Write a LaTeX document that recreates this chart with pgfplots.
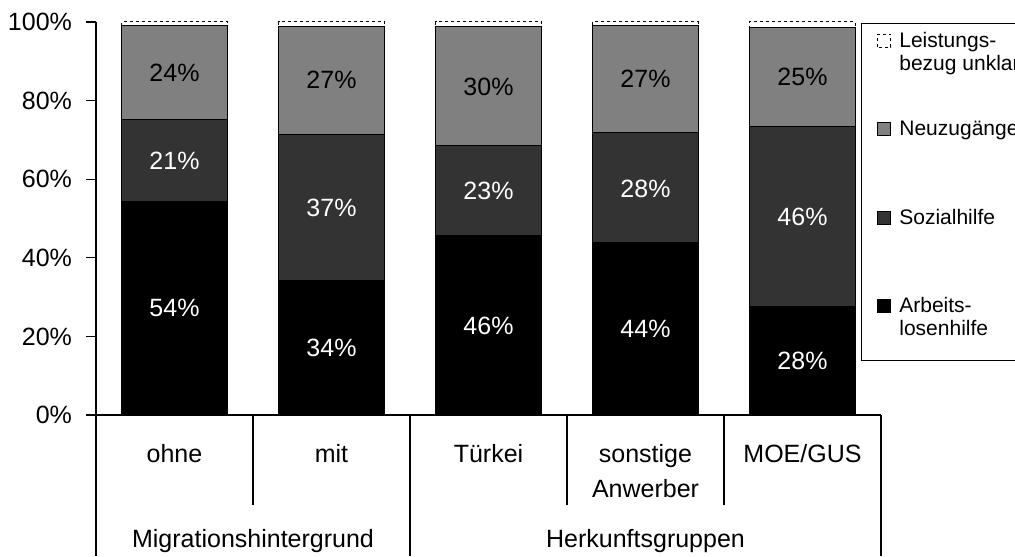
\documentclass[border=0pt]{standalone}
\usepackage{fontspec}
\setmainfont{Liberation Sans}
\usepackage{pgfplots}
\pgfplotsset{compat=1.18}

\definecolor{sozial}{HTML}{333333}
\definecolor{neu}{HTML}{808080}

% legend text: fixed height, no depth
\newcommand\LE[1]{\raisebox{0pt}[8pt][0pt]{\begin{tabular}[t]{@{}l@{}}#1\end{tabular}}}

\pgfplotsset{
  frame/.style={
    at={(48pt,70.5pt)}, anchor=south west,
    scale only axis, width=392.5pt, height=196.5pt,
    xmin=-0.5, xmax=4.5, ymin=0, ymax=100, clip=false,
  },
  lbl/.style={only marks, mark=none, point meta=explicit symbolic,
    nodes near coords,
    every node near coord/.append style={text=#1, anchor=center, inner sep=0pt,
      font=\fontsize{12.5pt}{14pt}\selectfont}},
}
\tikzset{lab/.style={anchor=base, inner sep=0pt, font=\fontsize{12.5pt}{14pt}\selectfont}}

\begin{document}
\begin{tikzpicture}
\path[use as bounding box] (0,0) rectangle (507.5pt,278pt);
\begin{axis}[
  frame,
  ybar stacked, bar width=53pt,
  axis x line*=bottom, axis y line*=left,
  axis line style={line width=0.6pt, -},
  xtick=\empty,
  ytick={0,20,...,100},
  yticklabel={\pgfmathprintnumber{\tick}\%},
  tick align=outside, major tick length=5pt,
  ytick style={line width=0.6pt, black},
  /pgf/number format/assume math mode=true,
  yticklabel style={font=\fontsize{12.5pt}{14pt}\selectfont, xshift=-3.5pt},
  legend style={at={(0.9745,0.9975)}, anchor=north west, draw=black,
    inner xsep=8pt, inner ysep=4pt, row sep=36pt,
    font=\fontsize{10.5pt}{11.5pt}\selectfont,
    cells={anchor=base west}, nodes={inner sep=0pt, text depth=},
    /tikz/every odd column/.append style={column sep=4pt}},
  legend image code/.code={\draw[#1] (0pt,0pt) rectangle (6.5pt,6.5pt);},
  reverse legend,
]
\addplot[fill=black, draw=black, line width=0.5pt]
  coordinates {(0,54.4) (1,34.1) (2,45.7) (3,43.8) (4,27.6)};
\addlegendentry{\begin{tabular}[t]{@{}l@{}}Arbeits-\\losenhilfe\rule[-8pt]{0pt}{0pt}\end{tabular}}
\addplot[fill=sozial, draw=black, line width=0.5pt]
  coordinates {(0,20.7) (1,37.4) (2,22.8) (3,28.2) (4,45.9)};
\addlegendentry{\LE{Sozialhilfe}}
\addplot[fill=neu, draw=black, line width=0.5pt]
  coordinates {(0,24.1) (1,27.4) (2,30.4) (3,27.0) (4,25.0)};
\addlegendentry{\LE{Neuzugänge}}
\addplot[fill=white, draw=black, line width=0.5pt, dash pattern=on 1.5pt off 1.5pt]
  coordinates {(0,0.8) (1,1.1) (2,1.1) (3,1.0) (4,1.5)};
\addlegendentry{\LE{Leistungs-\\bezug unklar}}

% category table below the axis
\draw[line width=0.6pt] (axis cs:-0.5,0) -- (axis cs:-0.5,-36);
\draw[line width=0.6pt] (axis cs:1.5,0) -- (axis cs:1.5,-36);
\draw[line width=0.6pt] (axis cs:4.5,0) -- (axis cs:4.5,-36);
\draw[line width=0.6pt] (axis cs:0.5,0) -- (axis cs:0.5,-23);
\draw[line width=0.6pt] (axis cs:2.5,0) -- (axis cs:2.5,-23);
\draw[line width=0.6pt] (axis cs:3.5,0) -- (axis cs:3.5,-23);
\node[lab] at (axis cs:0,-12.1) {ohne};
\node[lab] at (axis cs:1,-12.1) {mit};
\node[lab] at (axis cs:2,-12.1) {Türkei};
\node[lab] at (axis cs:3,-12.1) {sonstige};
\node[lab] at (axis cs:3,-20.9) {Anwerber};
\node[lab] at (axis cs:4,-12.1) {MOE/GUS};
\node[lab] at (axis cs:0.5,-33.8) {Migrationshintergrund};
\node[lab] at (axis cs:3,-33.8) {Herkunftsgruppen};
\end{axis}

% value labels, centred in each segment
\begin{axis}[frame, hide axis]
\addplot[lbl=white] coordinates {(0,27.2)[54\%] (1,17.0)[34\%] (2,22.8)[46\%] (3,21.9)[44\%] (4,13.8)[28\%]};
\addplot[lbl=white] coordinates {(0,64.7)[21\%] (1,52.8)[37\%] (2,57.1)[23\%] (3,57.6)[28\%] (4,50.5)[46\%]};
\addplot[lbl=black] coordinates {(0,87.1)[24\%] (1,85.2)[27\%] (2,83.5)[30\%] (3,85.5)[27\%] (4,86.0)[25\%]};
\end{axis}
\end{tikzpicture}
\end{document}
